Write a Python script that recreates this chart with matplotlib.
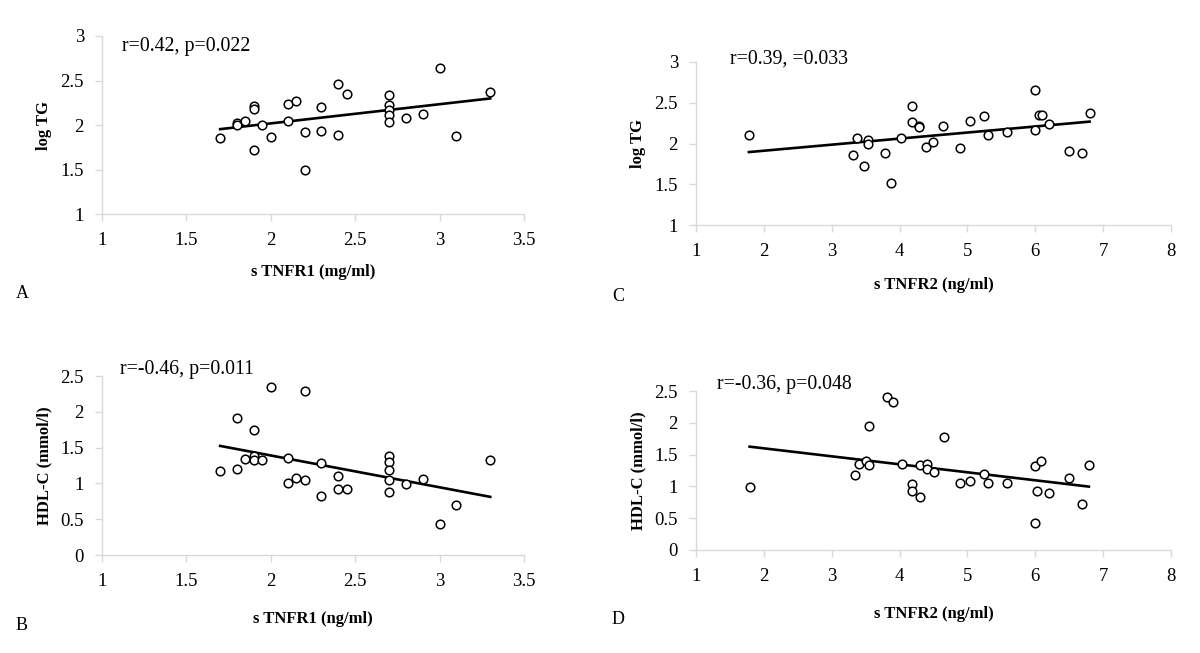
import matplotlib
matplotlib.use('Agg')
import matplotlib.pyplot as plt
import numpy as np

# Panel A / B : sTNFR1 (same patients)
tnfr1 = [1.70, 1.80, 1.80, 1.845, 1.90, 1.90, 1.90, 1.95, 2.00, 2.10, 2.10, 2.15,
         2.20, 2.20, 2.30, 2.30, 2.40, 2.40, 2.45, 2.70, 2.70, 2.70, 2.70, 2.70,
         2.80, 2.90, 3.00, 3.10, 3.30]
logtg_a = [1.85, 2.02, 2.00, 2.05, 2.21, 2.18, 1.72, 2.00, 1.87, 2.24, 2.05, 2.27,
           1.92, 1.50, 2.20, 1.93, 2.46, 1.89, 2.35, 2.34, 2.23, 2.17, 2.11, 2.03,
           2.08, 2.12, 2.64, 1.88, 2.37]
hdl_b = [1.17, 1.92, 1.20, 1.34, 1.74, 1.38, 1.32, 1.33, 2.35, 1.35, 1.01, 1.07,
         2.29, 1.05, 1.28, 0.82, 1.10, 0.92, 0.92, 1.38, 1.30, 1.19, 1.05, 0.88,
         0.99, 1.06, 0.43, 0.70, 1.33]

# Panel C : sTNFR2 vs log TG
tnfr2_c = [1.78, 3.38, 3.32, 3.47, 3.535, 3.535, 3.79, 3.88, 4.02, 4.19, 4.19, 4.28,
           4.28, 4.39, 4.49, 4.64, 4.89, 5.04, 5.24, 5.30, 5.59, 5.99, 5.99, 6.05,
           6.10, 6.20, 6.49, 6.69, 6.80]
logtg_c = [2.10, 2.065, 1.865, 1.73, 2.04, 2.00, 1.88, 1.52, 2.065, 2.46, 2.26, 2.21,
           2.20, 1.96, 2.02, 2.22, 1.94, 2.28, 2.34, 2.11, 2.14, 2.66, 2.17, 2.35,
           2.35, 2.24, 1.91, 1.88, 2.38]

# Panel D : sTNFR2 vs HDL-C
tnfr2_d = [1.79, 3.35, 3.40, 3.50, 3.545, 3.545, 3.81, 3.90, 4.04, 4.19, 4.19, 4.30,
           4.30, 4.40, 4.40, 4.51, 4.66, 4.89, 5.04, 5.24, 5.30, 5.59, 5.99, 6.08,
           6.03, 6.20, 5.99, 6.49, 6.69, 6.79]
hdl_d = [0.99, 1.18, 1.35, 1.40, 1.33, 1.95, 2.40, 2.32, 1.355, 1.03, 0.93, 0.84,
         1.34, 1.36, 1.28, 1.22, 1.77, 1.05, 1.08, 1.20, 1.05, 1.05, 1.32, 1.40,
         0.93, 0.89, 0.43, 1.13, 0.72, 1.34]

serif = 'Liberation Serif'
plt.rcParams['font.family'] = serif
grey = '#d9d9d9'

W, H = 1200, 653
fig = plt.figure(figsize=(12, 6.53), dpi=100)


def px_axes(l, r, t, b):
    return fig.add_axes([l / W, 1 - b / H, (r - l) / W, (b - t) / H])


def panel(ax, x, y, xlim, xt, ylim, yt, xlabel, ylabel, note, note_xy, lpad=12):
    ax.plot(x, y, 'o', mfc='white', mec='black', ms=6.2, mew=1.1, zorder=3)
    # linear trend line (Excel style)
    k, d = np.polyfit(x, y, 1)
    xx = np.array([min(x), max(x)])
    ax.plot(xx, k * xx + d, color='black', lw=1.9, zorder=2)
    ax.set_xlim(xlim)
    ax.set_ylim(ylim)
    ax.set_xticks(xt)
    ax.set_yticks(yt)
    ax.set_xticklabels([('%g' % v) for v in xt])
    ax.set_yticklabels([('%g' % v) for v in yt])
    for s in ['top', 'right']:
        ax.spines[s].set_visible(False)
    for s in ['left', 'bottom']:
        ax.spines[s].set_color(grey)
        ax.spines[s].set_linewidth(1.0)
    ax.tick_params(axis='both', colors=grey, labelcolor='black', labelsize=13.5,
                   length=5, width=1.0)
    ax.tick_params(axis='x', pad=8)
    ax.tick_params(axis='y', pad=8)
    ax.set_xlabel(xlabel, fontsize=12, fontweight='bold', labelpad=lpad)
    ax.set_ylabel(ylabel, fontsize=12, fontweight='bold', labelpad=6)
    fig.text(note_xy[0] / W, 1 - note_xy[1] / H, note, fontsize=14.3,
             ha='left', va='center')


axA = px_axes(102, 524, 36, 214)
panel(axA, tnfr1, logtg_a, (1, 3.5), np.arange(1, 3.51, 0.5), (1, 3),
      np.arange(1, 3.01, 0.5), 's TNFR1 (mg/ml)', 'log TG',
      'r=0.42, p=0.022', (122, 47), lpad=11)

axB = px_axes(102, 524, 376, 555)
panel(axB, tnfr1, hdl_b, (1, 3.5), np.arange(1, 3.51, 0.5), (0, 2.5),
      np.arange(0, 2.51, 0.5), 's TNFR1 (ng/ml)', 'HDL-C (mmol/l)',
      'r=-0.46, p=0.011', (120, 369), lpad=15)

axC = px_axes(696, 1171, 62, 225)
panel(axC, tnfr2_c, logtg_c, (1, 8), np.arange(1, 9), (1, 3),
      np.arange(1, 3.01, 0.5), 's TNFR2 (ng/ml)', 'log TG',
      'r=0.39, =0.033', (730, 59), lpad=12)

axD = px_axes(696, 1171, 391, 550)
panel(axD, tnfr2_d, hdl_d, (1, 8), np.arange(1, 9), (0, 2.5),
      np.arange(0, 2.51, 0.5), 's TNFR2 (ng/ml)', 'HDL-C (mmol/l)',
      'r=-0.36, p=0.048', (717, 385), lpad=15)

for lab, xy in [('A', (22, 293)), ('B', (22, 625)), ('C', (618, 297)), ('D', (618, 620))]:
    fig.text(xy[0] / W, 1 - xy[1] / H, lab, fontsize=13, ha='center', va='center')

fig.savefig('out.png', dpi=100, facecolor='white')
